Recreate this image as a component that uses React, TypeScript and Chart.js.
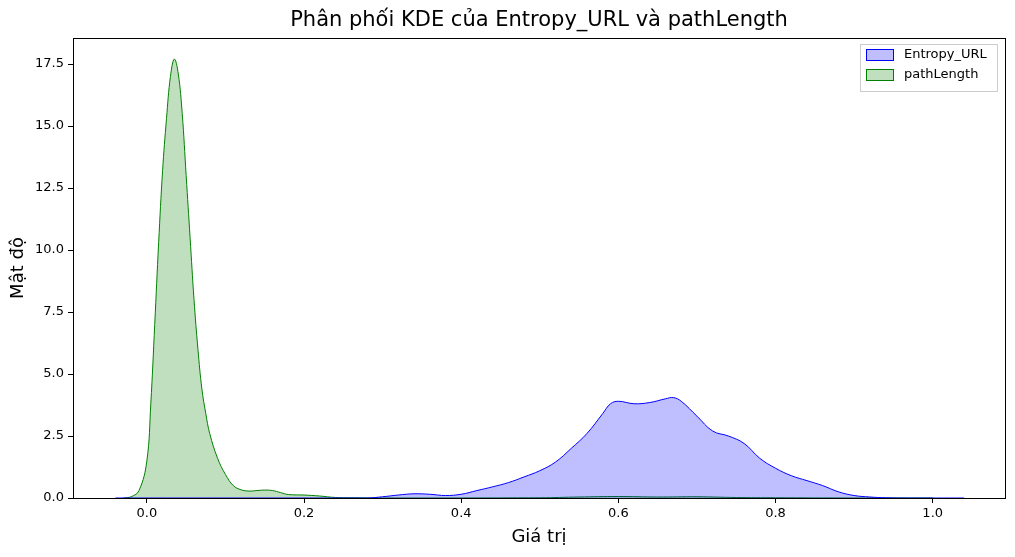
import { useEffect, useRef } from "react";
import { Chart, registerables } from "chart.js";

Chart.register(...registerables);

const entropyX = [-0.04, 0.28, 0.3, 0.32, 0.34, 0.36, 0.38, 0.4, 0.42, 0.44, 0.46, 0.48, 0.5, 0.52, 0.54, 0.56, 0.58, 0.59, 0.6, 0.62, 0.64, 0.66, 0.67, 0.68, 0.7, 0.72, 0.74, 0.76, 0.78, 0.8, 0.82, 0.84, 0.86, 0.88, 0.9, 0.92, 0.94, 0.97, 1.04];
const entropyY = [0, 0, 0.05, 0.12, 0.17, 0.15, 0.1, 0.15, 0.3, 0.45, 0.62, 0.85, 1.1, 1.45, 2.0, 2.6, 3.4, 3.8, 3.9, 3.8, 3.85, 4.0, 4.05, 3.9, 3.3, 2.7, 2.5, 2.2, 1.6, 1.2, 0.9, 0.7, 0.5, 0.25, 0.1, 0.04, 0.01, 0, 0];
const pathX = [-0.03, -0.02, -0.01, 0, 0.005, 0.01, 0.015, 0.02, 0.025, 0.03, 0.035, 0.04, 0.045, 0.05, 0.055, 0.06, 0.065, 0.07, 0.075, 0.08, 0.09, 0.1, 0.11, 0.12, 0.13, 0.14, 0.15, 0.16, 0.17, 0.18, 0.2, 0.22, 0.24, 0.26, 0.3, 0.5, 0.55, 0.6, 0.65, 0.7, 0.75, 0.8, 0.9, 1.0];
const pathY = [0, 0.05, 0.3, 1.5, 3.8, 7, 10.3, 13.2, 15.3, 17, 17.7, 17.1, 15.5, 13, 10.5, 8, 6, 4.4, 3.4, 2.6, 1.6, 0.95, 0.5, 0.33, 0.28, 0.3, 0.32, 0.3, 0.22, 0.14, 0.12, 0.08, 0.02, 0.01, 0, 0.01, 0.04, 0.06, 0.04, 0.05, 0.02, 0.01, 0, 0];

const FONT = "'DejaVu Sans', sans-serif";

const overlay = {
  id: "overlay",
  afterDraw(chart: Chart) {
    const { ctx, chartArea: a } = chart;
    ctx.save();
    ctx.strokeStyle = "#000";
    ctx.lineWidth = 1;
    ctx.strokeRect(a.left + 0.5, a.top + 0.5, a.right - a.left, a.bottom - a.top);
    ctx.fillStyle = "#000";
    ctx.textAlign = "center";
    ctx.textBaseline = "middle";
    ctx.font = `21px ${FONT}`;
    ctx.fillText("Phân phối KDE của Entropy_URL và pathLength", (a.left + a.right) / 2, 21);
    ctx.font = `18px ${FONT}`;
    ctx.fillText("Giá trị", (a.left + a.right) / 2, 537);
    ctx.save();
    ctx.translate(18, (a.top + a.bottom) / 2);
    ctx.rotate(-Math.PI / 2);
    ctx.fillText("Mật độ", 0, 0);
    ctx.restore();
    // legend
    ctx.fillStyle = "rgba(255,255,255,0.8)";
    ctx.strokeStyle = "#ccc";
    ctx.fillRect(860, 44, 137, 47);
    ctx.strokeRect(860.5, 44.5, 137, 47);
    const items = [
      { label: "Entropy_URL", fill: "rgba(0,0,255,0.25)", line: "blue" },
      { label: "pathLength", fill: "rgba(0,128,0,0.25)", line: "green" },
    ];
    ctx.font = `13px ${FONT}`;
    ctx.textAlign = "left";
    items.forEach((it, i) => {
      const y = 49 + i * 20;
      ctx.fillStyle = it.fill;
      ctx.fillRect(866, y, 27, 11);
      ctx.strokeStyle = it.line;
      ctx.strokeRect(866.5, y + 0.5, 27, 11);
      ctx.fillStyle = "#000";
      ctx.fillText(it.label, 904, y + 6);
    });
    ctx.restore();
  },
};

export default function App() {
  const ref = useRef<HTMLCanvasElement>(null);

  useEffect(() => {
    if (!ref.current) return;
    const chart = new Chart(ref.current, {
      type: "line",
      data: {
        datasets: [
          {
            label: "Entropy_URL",
            data: entropyX.map((x, i) => ({ x, y: entropyY[i] })),
            borderColor: "blue",
            backgroundColor: "rgba(0,0,255,0.25)",
            borderWidth: 1,
            fill: "origin",
            tension: 0.4,
            pointRadius: 0,
          },
          {
            label: "pathLength",
            data: pathX.map((x, i) => ({ x, y: pathY[i] })),
            borderColor: "green",
            backgroundColor: "rgba(0,128,0,0.25)",
            borderWidth: 1,
            fill: "origin",
            tension: 0.4,
            pointRadius: 0,
          },
        ],
      },
      options: {
        animation: false,
        responsive: false,
        layout: { padding: { top: 38, right: 10, left: 0, bottom: 0 } },
        plugins: { legend: { display: false }, tooltip: { enabled: false } },
        scales: {
          x: {
            type: "linear",
            min: -0.094,
            max: 1.092,
            afterFit: (s: any) => { s.height = 59; },
            afterBuildTicks: (s: any) => { s.ticks = [0, 0.2, 0.4, 0.6, 0.8, 1.0].map(v => ({ value: v })); },
            grid: { drawOnChartArea: false, tickLength: 5, color: "#000" },
            border: { display: false },
            ticks: { color: "#000", font: { family: FONT, size: 13 }, callback: (v: any) => Number(v).toFixed(1), maxRotation: 0, padding: 3 },
          },
          y: {
            min: 0,
            max: 18.55,
            afterFit: (s: any) => { s.width = 73; },
            afterBuildTicks: (s: any) => { s.ticks = [0, 2.5, 5, 7.5, 10, 12.5, 15, 17.5].map(v => ({ value: v })); },
            grid: { drawOnChartArea: false, tickLength: 5, color: "#000" },
            border: { display: false },
            ticks: { color: "#000", font: { family: FONT, size: 13 }, callback: (v: any) => Number(v).toFixed(1), padding: 4 },
          },
        },
      },
      plugins: [overlay],
    });
    return () => chart.destroy();
  }, []);

  return (
    <div style={{ position: "fixed", left: 0, top: 0, width: 1015, height: 557, background: "#fff" }}>
      <canvas ref={ref} width={1015} height={557} style={{ width: 1015, height: 557 }} />
    </div>
  );
}
